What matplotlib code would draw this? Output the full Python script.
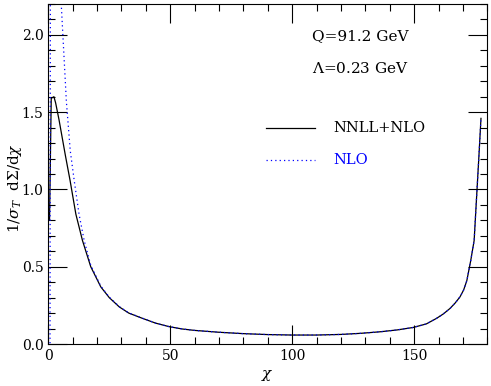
import numpy as np
import matplotlib
matplotlib.use('Agg')
import matplotlib.pyplot as plt
from matplotlib.ticker import MultipleLocator, FormatStrFormatter

# NNLL+NLO
chi_nnll = [0.5, 1.2, 2.3, 3.0, 4.4, 7.0, 8.9, 11.3, 14.0, 17.4, 21.5, 25, 29.1, 33, 38.6,
            44, 49.6, 55, 60, 70, 80, 90, 100, 110, 120, 128, 136, 143, 149.6, 155,
            159.2, 162, 164.7, 166.8, 168.8, 170.3, 171.6, 173.2, 174.6, 175.6, 176.5, 177.4]
sig_nnll = [0.8, 1.59, 1.6, 1.56, 1.45, 1.22, 1.06, 0.84, 0.67, 0.50, 0.37, 0.30, 0.24, 0.2, 0.166,
            0.135, 0.112, 0.097, 0.088, 0.076, 0.067, 0.061, 0.058, 0.058, 0.062, 0.069, 0.079, 0.091, 0.107, 0.13,
            0.166, 0.195, 0.23, 0.265, 0.305, 0.35, 0.41, 0.54, 0.67, 0.95, 1.2, 1.46]

# NLO
chi_nlo = [0.5, 1.5, 3.0, 5.3, 7.4, 9.0, 10.6, 12.6, 14.7, 17.4, 21.5, 25, 29.1, 33, 38.6,
           44, 49.6, 55, 60, 70, 80, 90, 100, 110, 120, 128, 136, 143, 149.6, 155,
           159.2, 162, 164.7, 166.8, 168.8, 170.3, 171.6, 173.2, 174.6, 175.6, 176.5, 177.4]
sig_nlo = [-3.0, 12.0, 4.8, 2.2, 1.57, 1.25, 1.06, 0.84, 0.67, 0.51, 0.375, 0.303, 0.242, 0.201, 0.167,
           0.135, 0.112, 0.097, 0.088, 0.076, 0.067, 0.061, 0.058, 0.058, 0.062, 0.069, 0.079, 0.091, 0.107, 0.13,
           0.166, 0.195, 0.23, 0.265, 0.305, 0.35, 0.41, 0.54, 0.67, 0.95, 1.2, 1.46]

plt.rcParams['font.family'] = 'DejaVu Serif'
plt.rcParams['mathtext.fontset'] = 'dejavuserif'

fig = plt.figure(figsize=(4.91, 3.86), dpi=100)
ax = fig.add_axes([0.0984, 0.1088, 0.8941, 0.8808])

ax.plot(chi_nnll, sig_nnll, color='black', lw=0.9)
ax.plot(chi_nlo, sig_nlo, color='blue', lw=0.9, ls=(0, (1, 2.5)))

ax.set_xlim(0, 180)
ax.set_ylim(0, 2.2)
ax.xaxis.set_major_locator(MultipleLocator(50))
ax.xaxis.set_minor_locator(MultipleLocator(10))
ax.yaxis.set_major_locator(MultipleLocator(0.5))
ax.yaxis.set_minor_locator(MultipleLocator(0.1))
ax.yaxis.set_major_formatter(FormatStrFormatter('%.1f'))
ax.tick_params(which='both', direction='in', top=True, right=True, labelsize=10, width=0.8)
ax.tick_params(which='major', length=14)
ax.tick_params(which='minor', length=5)
for s in ax.spines.values():
    s.set_linewidth(0.8)

ax.set_xlabel(r'$\chi$', fontsize=11)
ax.set_ylabel(r'1/$\sigma_T$  d$\Sigma$/d$\chi$', fontsize=11)
ax.yaxis.set_label_coords(-0.056, 0.46)

ax.text(0.60, 0.905, 'Q=91.2 GeV', transform=ax.transAxes, fontsize=11, va='center')
ax.text(0.60, 0.81, r'$\Lambda$=0.23 GeV', transform=ax.transAxes, fontsize=11, va='center')

# legend drawn by hand
ax.plot([0.497, 0.608], [0.635, 0.635], transform=ax.transAxes, color='black', lw=0.9)
ax.text(0.65, 0.635, 'NNLL+NLO', transform=ax.transAxes, fontsize=10.5, va='center')
ax.plot([0.497, 0.608], [0.54, 0.54], transform=ax.transAxes, color='blue', lw=0.9, ls=(0, (1, 2.5)))
ax.text(0.65, 0.54, 'NLO', transform=ax.transAxes, fontsize=10.5, va='center', color='blue')

fig.savefig('out.png', dpi=100)
